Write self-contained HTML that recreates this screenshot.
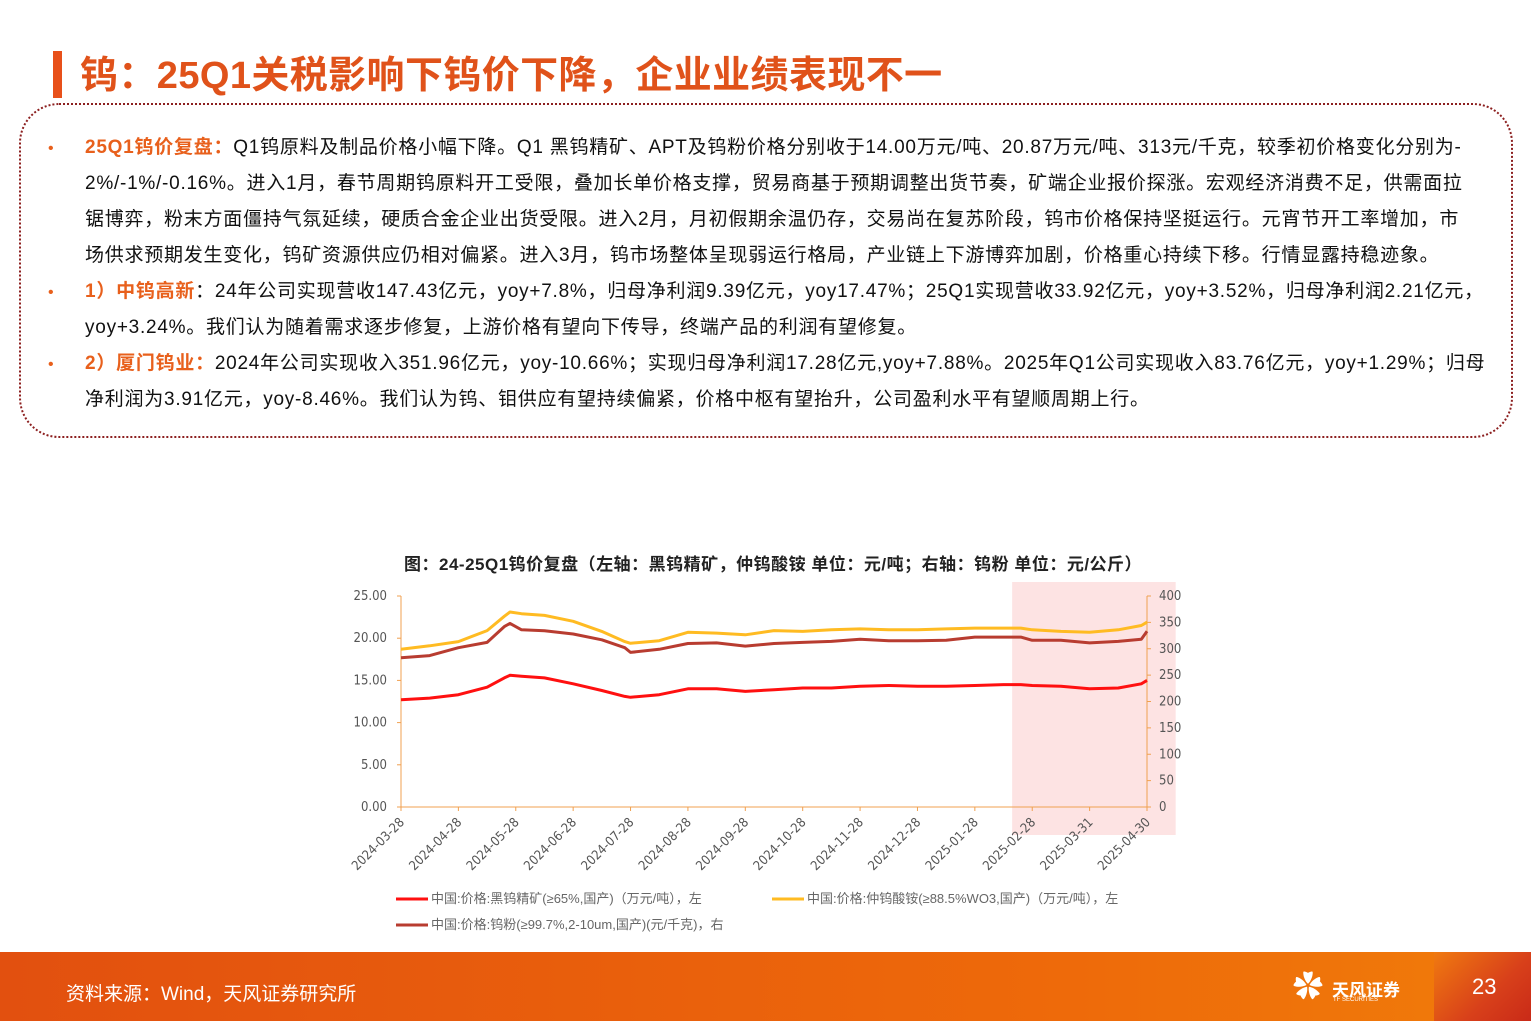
<!DOCTYPE html>
<html><head><meta charset="utf-8">
<style>
body{margin:0;width:1531px;height:1021px;position:relative;background:#fff;overflow:hidden;font-family:"Liberation Sans","Noto Sans CJK SC",sans-serif;}
.t{position:absolute;white-space:nowrap;}
.ln{position:absolute;left:85px;font-size:19px;letter-spacing:0.75px;color:#111;white-space:nowrap;line-height:36px;}
.bul{position:absolute;left:48px;font-size:16px;color:#e8601c;}
.hl{color:#e8601c;font-weight:bold;}
</style></head><body>
<div style="position:absolute;left:53px;top:51px;width:9px;height:47px;background:#e8501a"></div>
<div class="t" style="left:80px;top:52px;font-size:38px;font-weight:bold;color:#e0521a;line-height:48px;letter-spacing:0.4px">钨：25Q1关税影响下钨价下降，企业业绩表现不一</div>
<div style="position:absolute;left:19px;top:103px;width:1490px;height:331px;border:2.5px dotted #8c1f1f;border-radius:40px"></div>
<div class="bul" style="top:140px">•</div>
<div class="bul" style="top:284px">•</div>
<div class="bul" style="top:356px">•</div>
<div>
<div class="ln" style="top:130px"><span class="hl">25Q1钨价复盘：</span>Q1钨原料及制品价格小幅下降。Q1 黑钨精矿、APT及钨粉价格分别收于14.00万元/吨、20.87万元/吨、313元/千克，较季初价格变化分别为-</div>
<div class="ln" style="top:166px">2%/-1%/-0.16%。进入1月，春节周期钨原料开工受限，叠加长单价格支撑，贸易商基于预期调整出货节奏，矿端企业报价探涨。宏观经济消费不足，供需面拉</div>
<div class="ln" style="top:202px">锯博弈，粉末方面僵持气氛延续，硬质合金企业出货受限。进入2月，月初假期余温仍存，交易尚在复苏阶段，钨市价格保持坚挺运行。元宵节开工率增加，市</div>
<div class="ln" style="top:238px">场供求预期发生变化，钨矿资源供应仍相对偏紧。进入3月，钨市场整体呈现弱运行格局，产业链上下游博弈加剧，价格重心持续下移。行情显露持稳迹象。</div>
<div class="ln" style="top:274px"><span class="hl">1）中钨高新</span>：24年公司实现营收147.43亿元，yoy+7.8%，归母净利润9.39亿元，yoy17.47%；25Q1实现营收33.92亿元，yoy+3.52%，归母净利润2.21亿元，</div>
<div class="ln" style="top:310px">yoy+3.24%。我们认为随着需求逐步修复，上游价格有望向下传导，终端产品的利润有望修复。</div>
<div class="ln" style="top:346px"><span class="hl">2）厦门钨业：</span>2024年公司实现收入351.96亿元，yoy-10.66%；实现归母净利润17.28亿元,yoy+7.88%。2025年Q1公司实现收入83.76亿元，yoy+1.29%；归母</div>
<div class="ln" style="top:382px">净利润为3.91亿元，yoy-8.46%。我们认为钨、钼供应有望持续偏紧，价格中枢有望抬升，公司盈利水平有望顺周期上行。</div>
</div>
<div class="t" style="left:404px;top:550px;font-size:17px;letter-spacing:0.5px;font-weight:bold;color:#222">图：24-25Q1钨价复盘（左轴：黑钨精矿，仲钨酸铵 单位：元/吨；右轴：钨粉 单位：元/公斤）</div>
<svg id="chart" style="position:absolute;left:0;top:0" width="1531" height="950"></svg>
<div style="position:absolute;left:0;top:952px;width:1531px;height:69px;background:linear-gradient(90deg,#e2500f,#ee6a0a 70%,#f07c0a)"></div>
<div style="position:absolute;left:1434px;top:952px;width:97px;height:69px;background:linear-gradient(135deg,#f07a10,#d8401a 60%,#c92a18)"></div>
<div class="t" style="left:66px;top:979px;font-size:19px;color:#fff">资料来源：Wind，天风证券研究所</div>
<div style="position:absolute;left:1293px;top:970px;width:36px;height:36px;color:#fff;font-size:30px;line-height:36px">✿</div>
<div class="t" style="left:1332px;top:976px;font-size:17px;font-weight:bold;color:#fff">天风证券</div>
<div class="t" style="left:1333px;top:997px;font-size:6px;color:#fff">TF SECURITIES</div>
<div class="t" style="left:1472px;top:974px;font-size:22px;color:#fff">23</div>
<script>
const categories=["2024-03-28","2024-04-28","2024-05-28","2024-06-28","2024-07-28","2024-08-28","2024-09-28","2024-10-28","2024-11-28","2024-12-28","2025-01-28","2025-02-28","2025-03-31","2025-04-30"];
const leftTicks=[0,5,10,15,20,25];
const rightTicks=[0,50,100,150,200,250,300,350,400];
const sampleIdx=[0,0.5,1,1.5,1.8,1.9,2.1,2.5,3,3.5,3.9,4,4.5,5,5.5,6,6.5,7,7.5,8,8.5,9,9.5,10,10.5,10.8,11,11.5,12,12.5,12.9,13];
const oreVals=[12.7,12.9,13.3,14.2,15.3,15.6,15.5,15.3,14.6,13.8,13.1,13.0,13.3,14.0,14.0,13.7,13.9,14.1,14.1,14.3,14.4,14.3,14.3,14.4,14.5,14.5,14.4,14.3,14.0,14.1,14.6,15.0];
const aptVals=[18.7,19.1,19.6,20.9,22.6,23.1,22.9,22.7,22.0,20.8,19.6,19.4,19.7,20.7,20.6,20.4,20.9,20.8,21.0,21.1,21.0,21.0,21.1,21.2,21.2,21.2,21.0,20.8,20.7,21.0,21.5,21.9];
const powderVals=[283,287,302,312,342,348,336,334,328,317,302,293,299,310,311,305,310,312,314,318,315,315,316,322,322,322,316,316,311,314,318,333];
const shadeFrom=10.65, shadeTo=13.5;
const svg=document.getElementById('chart');
const NS='http://www.w3.org/2000/svg';
const X0=401,X1=1147,Y0=807,Y1=596;
const xs=i=>X0+(X1-X0)*i/(categories.length-1);
const yl=v=>Y0-(Y0-Y1)*v/25;
const yr=v=>Y0-(Y0-Y1)*v/400;
function mk(tag,attrs){const e=document.createElementNS(NS,tag);for(const k in attrs)e.setAttribute(k,attrs[k]);svg.appendChild(e);return e;}
let sh=mk('rect',{x:xs(shadeFrom),y:582,width:xs(shadeTo)-xs(shadeFrom),height:253,fill:'#fde3e3'});


let ax=mk('line',{x1:X0,y1:Y0,x2:X0,y2:Y1,stroke:'#f0a050','stroke-width':1});


let ax2=mk('line',{x1:X1,y1:Y0,x2:X1,y2:Y1,stroke:'#f0a050','stroke-width':1});


let ax3=mk('line',{x1:X0,y1:Y0,x2:X1,y2:Y0,stroke:'#f0a050','stroke-width':1});


leftTicks.forEach(v=>{mk('line',{x1:X0-4,x2:X0,y1:yl(v),y2:yl(v),stroke:'#f0a050'});
 let t=mk('text',{x:X0-14,y:yl(v)+4,'text-anchor':'end','font-size':13,fill:'#555','font-family':'DejaVu Sans Condensed, Liberation Sans'});t.textContent=v.toFixed(2);
 
 });
rightTicks.forEach(v=>{mk('line',{x1:X1,x2:X1+4,y1:yr(v),y2:yr(v),stroke:'#f0a050'});
 let t=mk('text',{x:X1+12,y:yr(v)+4,'font-size':13,fill:'#555','font-family':'DejaVu Sans Condensed, Liberation Sans'});t.textContent=v;
 
 });
categories.forEach((c,i)=>{const x=xs(i);mk('line',{x1:x,x2:x,y1:Y0,y2:Y0+4,stroke:'#f0a050'});
 let t=mk('text',{x:x+4,y:Y0+16,'text-anchor':'end','font-size':13,fill:'#555','font-family':'DejaVu Sans Condensed, Liberation Sans',transform:`rotate(-45 ${x+4} ${Y0+16})`});t.textContent=c;
 
 });
function line(vals,yf,col,name){const d=vals.map((v,k)=>(k?'L':'M')+xs(sampleIdx[k]).toFixed(1)+','+yf(v).toFixed(1)).join('');
 let p=mk('path',{d:d,fill:'none',stroke:col,'stroke-width':3,'stroke-linejoin':'round'});
 
 }
line(aptVals,yl,'#ffbb22','apt-line');
line(powderVals,yr,'#b83c30','powder-line');
line(oreVals,yl,'#ff1010','ore-line');
const legends=[[396,899,'#ff1010','中国:价格:黑钨精矿(≥65%,国产)（万元/吨），左'],[772,899,'#ffbb22','中国:价格:仲钨酸铵(≥88.5%WO3,国产)（万元/吨），左'],[396,925,'#b83c30','中国:价格:钨粉(≥99.7%,2-10um,国产)(元/千克)，右']];
legends.forEach(l=>{mk('line',{x1:l[0],x2:l[0]+32,y1:l[1],y2:l[1],stroke:l[2],'stroke-width':3});
 let t=mk('text',{x:l[0]+35,y:l[1]+4,'font-size':13,fill:'#666','font-family':'Liberation Sans, Noto Sans CJK SC, sans-serif'});t.textContent=l[3];
 
 });
</script>
</body></html>
